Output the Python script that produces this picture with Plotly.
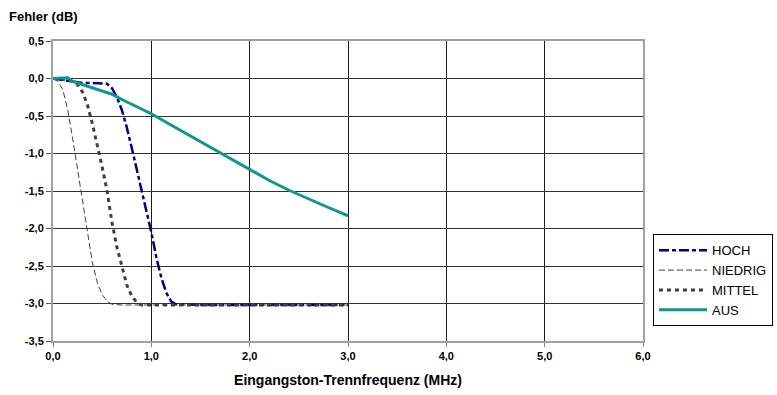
import plotly.graph_objects as go

# Data
hoch_x = [0.0, 0.1, 0.2, 0.3, 0.4, 0.5, 0.55, 0.6, 0.65, 0.7, 0.75, 0.8, 0.85, 0.9, 0.95, 1.0, 1.05, 1.1, 1.15, 1.2, 1.25, 1.5, 2.0, 2.5, 3.0]
hoch_y = [0.0, -0.02, -0.05, -0.06, -0.06, -0.06, -0.07, -0.13, -0.25, -0.42, -0.65, -0.92, -1.2, -1.5, -1.78, -2.05, -2.38, -2.65, -2.85, -2.97, -3.01, -3.02, -3.02, -3.02, -3.02]

niedrig_x = [0.0, 0.05, 0.1, 0.15, 0.2, 0.25, 0.3, 0.35, 0.4, 0.45, 0.5, 0.55, 0.6, 0.7, 1.0, 2.0, 3.0]
niedrig_y = [0.0, -0.04, -0.15, -0.42, -0.8, -1.2, -1.6, -2.05, -2.45, -2.72, -2.88, -2.97, -3.01, -3.02, -3.02, -3.02, -3.02]

mittel_x = [0.0, 0.1, 0.2, 0.25, 0.3, 0.35, 0.4, 0.45, 0.5, 0.55, 0.6, 0.65, 0.7, 0.75, 0.8, 0.85, 0.9, 1.0, 2.0, 3.0]
mittel_y = [0.0, -0.01, -0.04, -0.08, -0.18, -0.35, -0.6, -0.88, -1.18, -1.5, -1.92, -2.25, -2.52, -2.75, -2.9, -2.98, -3.02, -3.02, -3.02, -3.02]

aus_x = [0.0, 0.1, 0.15, 0.2, 0.3, 0.4, 0.5, 0.6, 0.7, 0.8, 0.9, 1.0, 1.2, 1.4, 1.6, 1.8, 2.0, 2.2, 2.4, 2.6, 2.8, 3.0]
aus_y = [0.0, 0.0, 0.01, -0.04, -0.08, -0.12, -0.16, -0.21, -0.28, -0.34, -0.41, -0.47, -0.62, -0.77, -0.92, -1.07, -1.22, -1.36, -1.49, -1.61, -1.72, -1.83]

x_ticks = [0, 1, 2, 3, 4, 5, 6]
x_labels = ["0,0", "1,0", "2,0", "3,0", "4,0", "5,0", "6,0"]
y_ticks = [0.5, 0.0, -0.5, -1.0, -1.5, -2.0, -2.5, -3.0, -3.5]
y_labels = ["0,5", "0,0", "-0,5", "-1,0", "-1,5", "-2,0", "-2,5", "-3,0", "-3,5"]

fig = go.Figure()
fig.add_trace(go.Scatter(x=hoch_x, y=hoch_y, name="HOCH", mode="lines",
                         line=dict(color="#000080", width=2.5, dash="10px,3px,4px,3px")))
fig.add_trace(go.Scatter(x=niedrig_x, y=niedrig_y, name="NIEDRIG", mode="lines",
                         line=dict(color="#404040", width=1, dash="6px,3px")))
fig.add_trace(go.Scatter(x=mittel_x, y=mittel_y, name="MITTEL", mode="lines",
                         line=dict(color="#404040", width=3, dash="4px,4px")))
fig.add_trace(go.Scatter(x=aus_x, y=aus_y, name="AUS", mode="lines",
                         line=dict(color="#0E9690", width=3)))

fig.update_layout(
    width=777, height=395,
    margin=dict(l=53, r=134, t=41, b=54, autoexpand=False),
    paper_bgcolor="white", plot_bgcolor="white",
    font=dict(family="Liberation Sans, Arial, sans-serif", color="black", size=12),
    showlegend=True,
    legend=dict(x=1.017, y=0.356, xanchor="left", yanchor="top",
                bordercolor="black", borderwidth=1, bgcolor="white",
                itemwidth=48,
                font=dict(size=13, color="black"), tracegroupgap=0),
    xaxis=dict(range=[0, 6], tickvals=x_ticks, ticktext=x_labels,
               showgrid=True, gridcolor="#1a1a1a", gridwidth=1,
               showline=True, linecolor="#a0a0a0", linewidth=2, mirror=True,
               ticks="outside", ticklen=4, tickcolor="#808080",
               tickfont=dict(size=11, family="Liberation Sans, Arial, sans-serif", weight="bold"),
               zeroline=False, automargin=False,
               title=dict(text="Eingangston-Trennfrequenz (MHz)", standoff=14,
                          font=dict(size=14, weight="bold"))),
    yaxis=dict(range=[-3.5, 0.5], tickvals=y_ticks, ticktext=y_labels,
               showgrid=True, gridcolor="#333333", gridwidth=1,
               showline=True, linecolor="#a0a0a0", linewidth=2, mirror=True,
               ticks="outside", ticklen=5, tickcolor="#555555",
               tickfont=dict(size=11, family="Liberation Sans, Arial, sans-serif", weight="bold"),
               zeroline=False, automargin=False),
    annotations=[dict(text="Fehler (dB)", xref="paper", yref="paper",
                      x=-46/590, y=1 + 24/300, xanchor="left", yanchor="middle",
                      showarrow=False, font=dict(size=13, weight="bold"))],
)

fig.write_html("out.html")
